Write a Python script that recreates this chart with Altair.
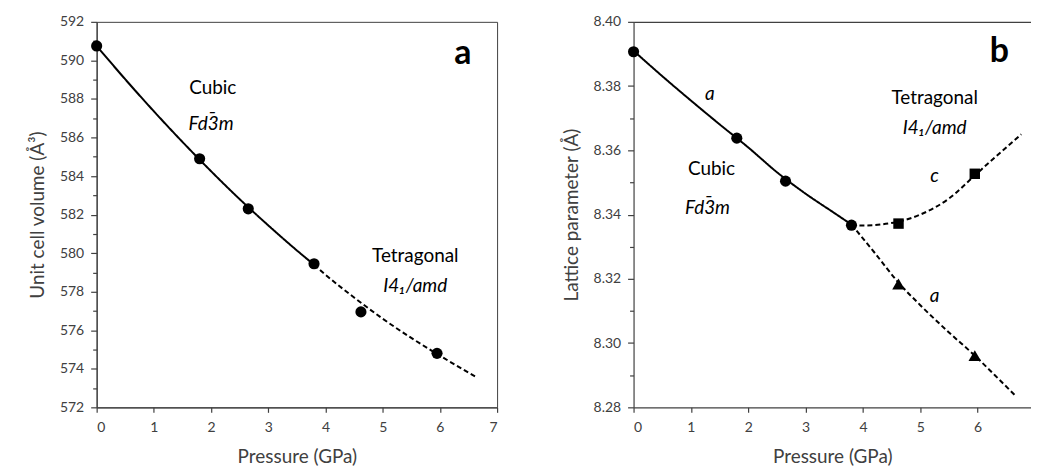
import altair as alt
import pandas as pd

# ---------------- Panel a: unit cell volume ----------------
p_obs_a = [0, 1.8, 2.65, 3.8, 4.62, 5.95]
v_obs_a = [590.75, 584.9, 582.3, 579.45, 576.95, 574.8]

fit_cub_p = [0, 0.5, 1.0, 1.5, 2.0, 2.5, 3.0, 3.5, 3.8]
fit_cub_v = [590.75, 589.02, 587.36, 585.77, 584.25, 582.8, 581.44, 580.14, 579.4]

fit_tet_p = [3.8, 4.0, 4.5, 5.0, 5.5, 6.0, 6.62]
fit_tet_v = [579.4, 578.88, 577.7, 576.6, 575.6, 574.68, 573.6]

# ---------------- Panel b: lattice parameters ----------------
p_cub_b = [0, 1.8, 2.65, 3.8]
a_cub_b = [8.3907, 8.3638, 8.3504, 8.3367]
p_tet_b = [4.62, 5.95]
c_tet_b = [8.3372, 8.3527]
a_tet_b = [8.3184, 8.2961]

fit_acub_p = [0, 0.5, 1.0, 1.5, 2.0, 2.5, 3.0, 3.5, 3.8]
fit_acub_v = [8.391, 8.3831, 8.3755, 8.3681, 8.3609, 8.3532, 8.3465, 8.3405, 8.3369]
fit_c_p = [3.8, 4.0, 4.62, 5.0, 5.5, 5.95, 6.3, 6.76]
fit_c_v = [8.3369, 8.3366, 8.3378, 8.3400, 8.3450, 8.3522, 8.3578, 8.3650]
fit_atet_p = [3.8, 4.2, 4.62, 5.0, 5.5, 5.95, 6.3, 6.67]
fit_atet_v = [8.3369, 8.3282, 8.3188, 8.3118, 8.3033, 8.2961, 8.2900, 8.2834]

# ---------------- Annotations ----------------
# multi-line texts: the short bar line sits over the "3" of Fd3m
ann_a_x = [2.03, 2.0, 5.57, 5.57]
ann_a_y = [588.55, 586.95, 579.85, 578.3]
ann_a_t = [["Cubic"], ["\u00af", "Fd3m"], ["Tetragonal"], ["I4\u2081/amd"]]
ann_a_style = ["normal", "italic", "normal", "italic"]
lab_a = ("a", 6.4, 590.35)

ann_b_x = [1.36, 1.29, 5.25, 5.25, 1.33, 5.25, 5.25]
ann_b_y = [8.3541, 8.3436, 8.3762, 8.3668, 8.3774, 8.3519, 8.3147]
ann_b_t = [["Cubic"], ["\u00af", "Fd3m"], ["Tetragonal"], ["I4\u2081/amd"], ["a"], ["c"], ["a"]]
ann_b_style = ["normal", "italic", "normal", "italic", "italic", "italic", "italic"]
lab_b = ("b", 6.38, 8.3907)

x_ticks = [0, 0.5, 1, 1.5, 2, 2.5, 3, 3.5, 4, 4.5, 5, 5.5, 6, 6.5, 7]
ya_ticks = [572, 573, 574, 575, 576, 577, 578, 579, 580, 581, 582, 583, 584, 585,
            586, 587, 588, 589, 590, 591, 592]
yb_ticks = [8.28, 8.29, 8.30, 8.31, 8.32, 8.33, 8.34, 8.35, 8.36, 8.37, 8.38, 8.39, 8.40]

FONT = "Lato"
GREY = "#404040"


def df(xs, ys):
    return pd.DataFrame({"x": xs, "y": ys})


def panel(xdom, ydom, xvals, yvals, ymajor_test, ytitle, yfmt, width,
          lines, points, ann, label, top_axis):
    xs = alt.Scale(domain=xdom, nice=False, zero=False)
    ys = alt.Scale(domain=ydom, nice=False, zero=False)
    xmaj = "abs(datum.value - round(datum.value)) < 0.01"
    x_main = alt.X("x:Q", scale=xs, title="Pressure (GPa)",
                   axis=alt.Axis(values=xvals, orient="bottom", format="d",
                                 tickSize={"condition": {"test": xmaj, "value": 5}, "value": 4},
                                 labelExpr=xmaj + " ? datum.label : ''",
                                 labelOverlap=False,
                                 labelPadding=8, titlePadding=13, grid=False))
    y_main = alt.Y("y:Q", scale=ys, title=ytitle,
                   axis=alt.Axis(values=yvals, orient="left",
                                 tickSize={"condition": {"test": ymajor_test, "value": 6}, "value": 4},
                                 labelExpr=ymajor_test + " ? datum.label : ''",
                                 labelOverlap=False,
                                 labelPadding=7, titlePadding=12, grid=False,
                                 format=yfmt))
    main = []
    for d, dashed in lines:
        m = alt.Chart(d).mark_line(
            color="black", strokeWidth=2, interpolate="monotone",
            strokeDash=[5, 3] if dashed else [1, 0])
        main.append(m.encode(x=x_main, y=y_main))
    for d, shape, size in points:
        main.append(alt.Chart(d).mark_point(
            shape=shape, filled=True, color="black", size=size, opacity=1
        ).encode(x=x_main, y=y_main))
    for d, style in ann:
        main.append(alt.Chart(d).mark_text(
            font=FONT, fontSize=19, fontStyle=style, color="black", lineHeight=5
        ).encode(x=x_main, y=y_main, text="t"))
    lab = pd.DataFrame({"x": [label[1]], "y": [label[2]], "t": [label[0]]})
    main.append(alt.Chart(lab).mark_text(
        font=FONT, fontSize=34, fontWeight="bold", color="black"
    ).encode(x=x_main, y=y_main, text="t:N"))
    main_layer = alt.layer(*main)
    if top_axis:
        top = alt.Chart(points[0][0]).mark_point(opacity=0).encode(
            x=alt.X("x:Q", scale=xs,
                    axis=alt.Axis(orient="top", ticks=False, labels=False,
                                  domain=True, grid=False, title=None)),
            y=alt.Y("y:Q", scale=ys,
                    axis=alt.Axis(orient="left", ticks=False, labels=False,
                                  domain=False, grid=False, title=None)),
        )
        ch = alt.layer(main_layer, top).resolve_axis(x="independent", y="independent")
    else:
        ch = main_layer
    return ch.properties(width=width, height=387)


def ann_frames(xs, ys, ts, styles):
    out = []
    for s in ["normal", "italic"]:
        idx = [i for i, st in enumerate(styles) if st == s]
        out.append((pd.DataFrame({"x": [xs[i] for i in idx],
                                  "y": [ys[i] for i in idx],
                                  "t": [ts[i] for i in idx]}), s))
    return out


pts_a = [(df(p_obs_a, v_obs_a), "circle", 125)]
lines_a = [(df(fit_cub_p, fit_cub_v), False), (df(fit_tet_p, fit_tet_v), True)]
ann_a = ann_frames(ann_a_x, ann_a_y, ann_a_t, ann_a_style)

pts_b = [(df(p_cub_b, a_cub_b), "circle", 125),
         (df(p_tet_b, c_tet_b), "square", 110),
         (df(p_tet_b, a_tet_b), "triangle-up", 160)]
lines_b = [(df(fit_acub_p, fit_acub_v), False), (df(fit_c_p, fit_c_v), True),
           (df(fit_atet_p, fit_atet_v), True)]
ann_b = ann_frames(ann_b_x, ann_b_y, ann_b_t, ann_b_style)

left = panel([0, 7], [572, 592], x_ticks, ya_ticks,
             "round(datum.value) % 2 == 0",
             "Unit cell volume (Å³)", "d", 402, lines_a, pts_a, ann_a, lab_a, False)
left = left.properties(view=alt.ViewBackground(stroke=GREY, strokeWidth=1))

right = panel([0, 6.93], [8.28, 8.40], x_ticks[:-1], yb_ticks,
              "round(datum.value * 100) % 2 == 0",
              "Lattice parameter (Å)", ".2f", 399, lines_b, pts_b, ann_b, lab_b, True)
right = right.properties(view=alt.ViewBackground(stroke=None))

chart = alt.hconcat(left, right, spacing=63).properties(
    padding={"left": 20, "top": 5, "right": 0, "bottom": 0},
    background="white",
).configure_axis(
    labelFont=FONT, labelFontSize=14, labelColor=GREY,
    titleFont=FONT, titleFontSize=19, titleFontWeight="normal", titleColor=GREY,
    domainColor=GREY, tickColor=GREY, domainWidth=1.2, tickWidth=1.2,
).configure_view(stroke=None)

chart.save("out.html", embed_options={"renderer": "svg", "actions": False})
